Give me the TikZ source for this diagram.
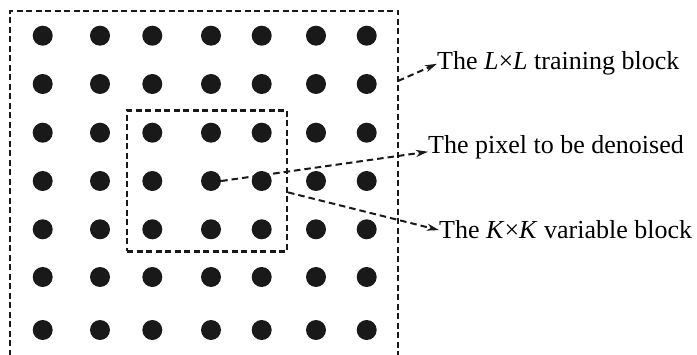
\documentclass[tikz,border=0pt]{standalone}
\usepackage{fontspec}
\setmainfont{Liberation Serif}
\usetikzlibrary{arrows.meta,positioning}

\begin{document}
\begin{tikzpicture}[x=1pt,y=-1pt,
  dot/.style={circle,fill=black!90,inner sep=0pt,minimum size=20pt},
  frame/.style={draw=black!90,line width=2.2pt,dash pattern=on 6pt off 3.5pt},
  lbl/.style={anchor=base west,inner sep=0pt,font=\fontsize{26}{30}\selectfont},
  arr/.style={-{Stealth[length=12pt,width=7pt,inset=3.5pt]},line width=2pt,
    dash pattern=on 6.5pt off 4pt,black!90}]
  \useasboundingbox (0,0) rectangle (697,355);
  % the pixels
  \foreach \i [count=\c] in {42.7,100,152.3,211,261.7,316,366.7}
    \foreach \j [count=\r] in {35.7,84,132.7,181,229.3,277,330}
      \node[dot] (p\c\r) at (\i,\j) {};
  % L x L block (open at the bottom)
  \draw[frame] (10,356) -- (10,11) -- (398,11) -- (398,356);
  \coordinate (lout) at (398,81);
  % K x K block
  \node[frame,minimum width=160pt,minimum height=141pt] (kk) at (207,181) {};
  \node[lbl] (tl) at (437,70) {The \textit{L}×\textit{L} training block};
  \node[lbl] (tp) at (428,154) {The pixel to be denoised};
  \node[lbl] (tk) at (439,239) {The \textit{K}×\textit{K} variable block};
  \draw[arr] (lout) -- (tl.west);
  \draw[arr] (p44.east) -- ([yshift=-4pt]tp.west);
  \draw[arr] (kk.-8) -- (tk.west);
\end{tikzpicture}
\end{document}
